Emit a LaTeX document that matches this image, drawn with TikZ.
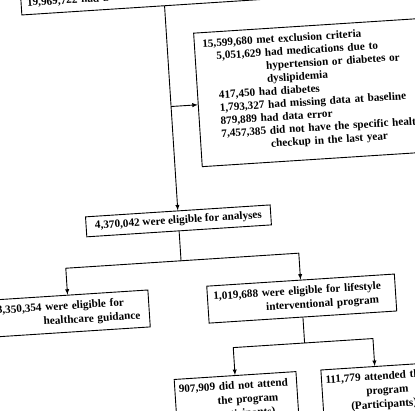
\documentclass[tikz,border=0pt]{standalone}
\usepackage{fontspec}
\setmainfont{Liberation Serif}

\begin{document}
\begin{tikzpicture}[x=1pt,y=-1pt,>=latex,
  box/.style={draw, line width=0.9pt, align=left, inner xsep=6pt,
    font=\bfseries\fontsize{11.2}{14}\selectfont},
  link/.style={->, line width=0.9pt}]

\useasboundingbox (0,0) rectangle (415,410);
\clip (0,0) rectangle (415,410);

\begin{scope}[rotate around={3.7:(207,205)}, transform shape]

% health checkup
\node [box, text width=274pt, minimum height=22pt] (total) at (177.5,-7.6)
  {19,969,722 had a nationwide health checkup};

% exclusion criteria
\node [box, anchor=north west, text width=222pt, inner xsep=8pt, inner ysep=7pt,
  font=\bfseries\fontsize{11.2}{13}\selectfont] (excl) at (204.3,32.2)
  {15,599,680 met exclusion criteria\\
   \hspace*{13.3pt}5,051,629 had medications due to\\
   \hspace*{62.3pt}hypertension or diabetes or\\
   \hspace*{62.3pt}dyslipidemia\\
   \hspace*{13.3pt}417,450 had diabetes\\
   \hspace*{13.3pt}1,793,327 had missing data at baseline\\
   \hspace*{13.3pt}879,889 had data error\\
   \hspace*{13.3pt}7,457,385 did not have the specific health\\
   \hspace*{62.3pt}checkup in the last year\rule[-8pt]{0pt}{8pt}};

% analyses
\node [box, minimum width=185pt, minimum height=20pt] (elig) at (177.5,219)
  {4,370,042 were eligible for analyses};

\draw [link] (total.south) -- (elig.north);
\coordinate (tap) at (177.5,104.4);
\draw [link] (tap) -- (tap -| excl.west);

% guidance / lifestyle program
\node [box, text width=146pt, minimum height=37pt] (guid) at (63.5,304.5)
  {3,350,354 were eligible for\\ \hspace*{46pt}healthcare guidance};
\node [box, text width=176pt, minimum height=37pt] (life) at (295.5,304.5)
  {1,019,688 were eligible for lifestyle\\ \hspace*{52pt}interventional program};

\coordinate (split1) at (177.5,259);
\draw [link] (elig.south) -- (split1) -| ([xshift=-1.5pt]guid.north);
\draw [link] (split1) -| (life.north);

% attendance
\node [box, text width=114pt, inner xsep=4pt, minimum height=50pt] (nonpart) at (224,402)
  {907,909 did not attend\\ \hspace*{38pt}the program\\ \hspace*{6pt}(Non-participants)};
\node [box, text width=114pt, inner xsep=4pt, minimum height=50pt] (part) at (371,402)
  {111,779 attended the\\ \hspace*{40pt}program\\ \hspace*{24pt}(Participants)};

\coordinate (split2) at (295.5,349);
\draw [link] (life.south) -- (split2) -| (nonpart.north);
\draw [link] (split2) -| ([xshift=-7pt]part.north);

\end{scope}
\end{tikzpicture}
\end{document}
